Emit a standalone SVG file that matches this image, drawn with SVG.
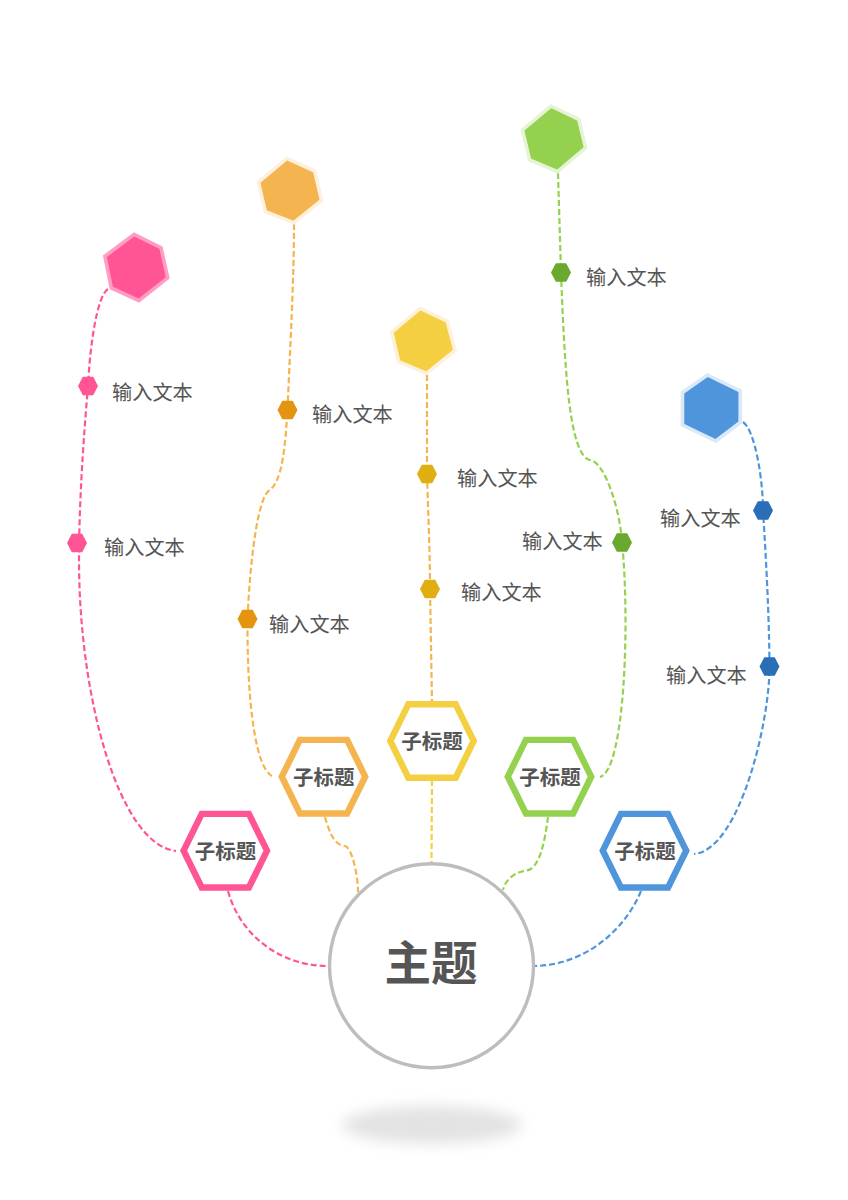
<svg xmlns="http://www.w3.org/2000/svg" width="848" height="1200" viewBox="0 0 848 1200">
<style>
text{font-family:"Noto Sans CJK SC","Liberation Sans",sans-serif;fill:#555}
.lb{font-size:20.2px}
.st{font-size:20.5px;font-weight:700;text-anchor:middle}
.c{fill:none;stroke-width:2.2;stroke-dasharray:6 3}
.hx{fill:#fff;stroke-width:6.4}
.big{stroke-width:3.6}
</style>
<defs>
<polygon id="sub" points="-41.7,0 -23.6,-36.8 23.6,-36.8 41.7,0 23.6,36.8 -23.6,36.8"/>
<polygon id="dot" points="-10,0 -5.2,-9.2 5.2,-9.2 10,0 5.2,9.2 -5.2,9.2"/>
<filter id="blur" x="-30%" y="-100%" width="160%" height="300%"><feGaussianBlur stdDeviation="7"/></filter>
</defs>
<rect width="848" height="1200" fill="#fff"/>
<ellipse id="shadow" cx="432" cy="1125" rx="90" ry="19" fill="#e3e3e3" filter="url(#blur)"/>
<g id="connectors">
<path class="c" stroke="#ff5595" d="M108,289C97,296 90,345 88,386C86,410 79,490 79,560C79,700 120,845 176,851"/>
<path class="c" stroke="#ff5595" d="M228,891C240,935 280,966 328,966"/>
<path class="c" stroke="#f4b44f" d="M294,224C294,280 290,350 287.5,410C285,450 282,480 270,490C258,495 250,560 247.5,619C247,680 252,770 274,777"/>
<path class="c" stroke="#f4b44f" d="M325,817C330,835 335,845 345,846C352,848 358,875 358,892"/>
<path class="c" stroke="#f4b44f" d="M427,375L427,474C428,510 430,550 430,589L432,702"/>
<path class="c" stroke="#f4cf42" d="M432,780L431.5,862"/>
<path class="c" stroke="#94d14f" d="M558,173L561,272C565,380 570,455 590,460C605,462 620,510 622,542C630,620 625,770 600,777"/>
<path class="c" stroke="#94d14f" d="M548,817C545,840 540,870 525,871C515,872 505,880 503,890"/>
<path class="c" stroke="#4f95dc" d="M743,422C755,430 763,480 763,510C766,560 769,610 769.5,666C770,720 740,850 694,854"/>
<path class="c" stroke="#4f95dc" d="M641,891C625,930 585,965 535,966"/>
</g>
<g id="topic"><circle cx="431.5" cy="965.8" r="102" fill="#fff" stroke="#bdbdbd" stroke-width="3.4"/><text x="431" y="980" font-size="46.5" font-weight="700" text-anchor="middle">主题</text></g>
<g id="sub-pink"><use href="#sub" x="225.3" y="850.7" class="hx" stroke="#ff5595"/><text class="st" x="225.5" y="858.5">子标题</text></g>
<g id="sub-orange"><use href="#sub" x="323.5" y="776.7" class="hx" stroke="#f4b44f"/><text class="st" x="323.7" y="784.5">子标题</text></g>
<g id="sub-yellow"><use href="#sub" x="432" y="741" class="hx" stroke="#f4cf42"/><text class="st" x="432" y="748.5">子标题</text></g>
<g id="sub-green"><use href="#sub" x="549.5" y="776.7" class="hx" stroke="#94d14f"/><text class="st" x="550" y="784.5">子标题</text></g>
<g id="sub-blue"><use href="#sub" x="644.5" y="850.7" class="hx" stroke="#4f95dc"/><text class="st" x="645" y="858.5">子标题</text></g>
<g id="end-pink"><polygon class="big" fill="#ff5595" stroke="#ff9dc2" points="134.1,234.4 161,247.7 167.7,277.8 138.9,300.6 111.3,287.9 104.9,256.3"/></g>
<g id="end-orange"><polygon class="big" fill="#f4b44f" stroke="#fdf0dd" points="286.9,158.4 314.7,171 321.6,200.5 293.8,222.6 265.3,211.6 258.4,182.1"/></g>
<g id="end-yellow"><polygon class="big" fill="#f4cf42" stroke="#fdf1dc" points="420.2,308.4 447.1,321 455,350.5 426.5,373.3 398.6,361.6 391.7,332.2"/></g>
<g id="end-green"><polygon class="big" fill="#94d14f" stroke="#e5f4d5" points="550.9,106 578.7,119.3 585.6,147.8 557.5,171.6 529.6,159.9 522.4,129.8"/></g>
<g id="end-blue"><polygon class="big" fill="#4f95dc" stroke="#dae8f8" points="707.5,375 740.2,390.9 740.2,422.5 715.8,441 682.5,425.1 682.5,392.5"/></g>
<g id="leaf-p1"><use href="#dot" x="88" y="386" fill="#ff5595"/><text class="lb" x="112" y="400">输入文本</text></g>
<g id="leaf-p2"><use href="#dot" x="77" y="543" fill="#ff5595"/><text class="lb" x="104" y="555">输入文本</text></g>
<g id="leaf-o1"><use href="#dot" x="287.5" y="410" fill="#e4940f"/><text class="lb" x="312" y="422">输入文本</text></g>
<g id="leaf-o2"><use href="#dot" x="247.5" y="619" fill="#e4940f"/><text class="lb" x="269" y="632">输入文本</text></g>
<g id="leaf-y1"><use href="#dot" x="427" y="474" fill="#e0ae10"/><text class="lb" x="457" y="486">输入文本</text></g>
<g id="leaf-y2"><use href="#dot" x="430" y="589" fill="#e0ae10"/><text class="lb" x="461" y="600">输入文本</text></g>
<g id="leaf-g1"><use href="#dot" x="561" y="272.5" fill="#6aa92d"/><text class="lb" x="586" y="285">输入文本</text></g>
<g id="leaf-g2"><use href="#dot" x="622" y="542.5" fill="#6aa92d"/><text class="lb" x="522" y="549">输入文本</text></g>
<g id="leaf-b1"><use href="#dot" x="763" y="510.5" fill="#2a6eb8"/><text class="lb" x="660" y="526">输入文本</text></g>
<g id="leaf-b2"><use href="#dot" x="769.5" y="666.5" fill="#2a6eb8"/><text class="lb" x="666" y="683">输入文本</text></g>
</svg>
